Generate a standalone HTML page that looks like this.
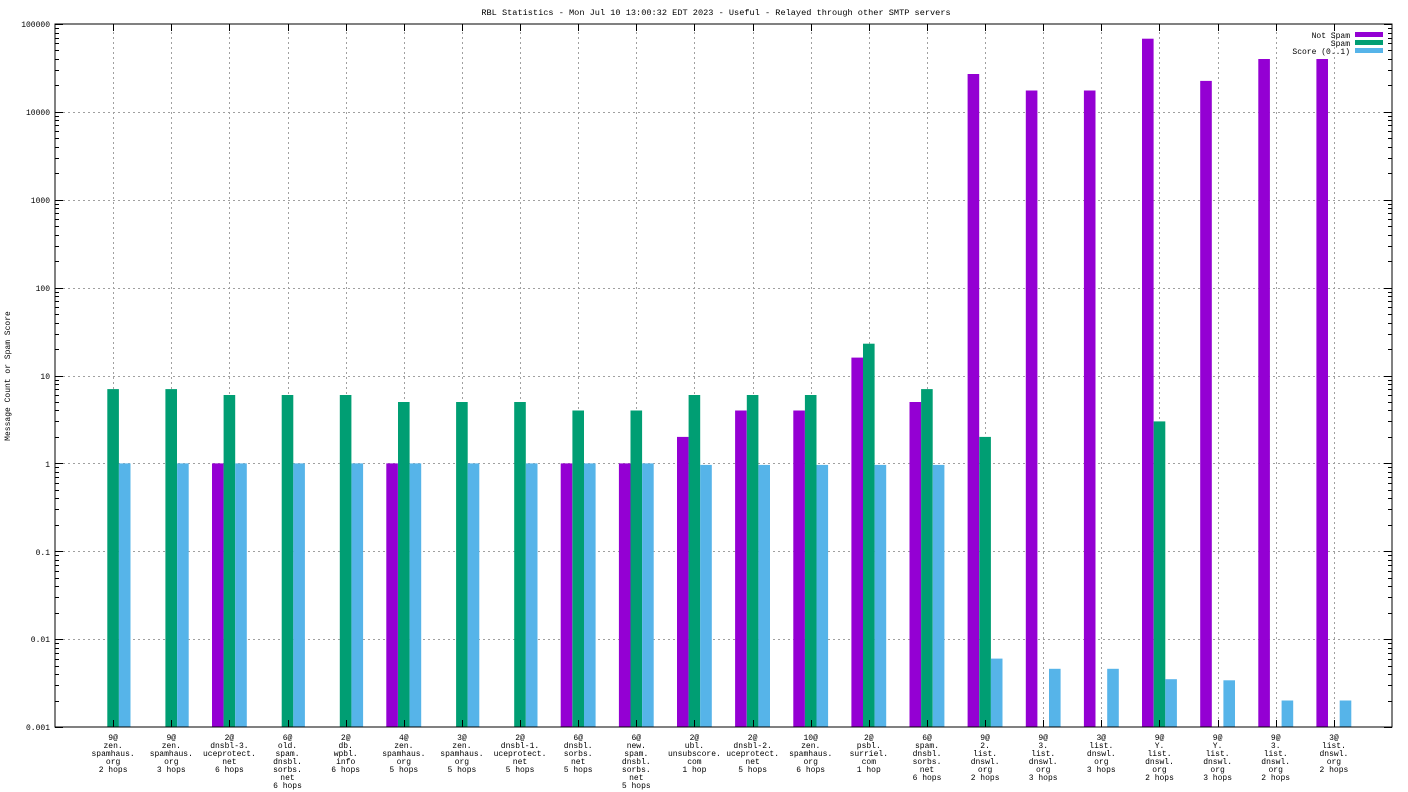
<!DOCTYPE html>
<html><head><meta charset="utf-8"><style>
html,body{margin:0;padding:0;background:#fff}
svg{display:block}
text{font-family:"Liberation Mono","DejaVu Sans Mono",monospace;font-size:8px;fill:#000}
</style></head><body>
<svg id="s" width="1408" height="792" viewBox="0 0 1408 792" xmlns="http://www.w3.org/2000/svg">
<rect width="1408" height="792" fill="#fff"/>
<g id="grid"></g>
<g id="bars"></g>
<g id="ticks"></g>
<rect x="55" y="24" width="1337" height="703" fill="none" stroke="#000" stroke-width="1"/>
<text x="716" y="15" text-anchor="middle" style="font-size:8.6px">RBL Statistics - Mon Jul 10 13:00:32 EDT 2023 - Useful - Relayed through other SMTP servers</text>
<text transform="translate(10,376) rotate(-90)" text-anchor="middle">Message Count or Spam Score</text>
<g text-anchor="end">
<text x="50" y="27">100000</text>
<text x="50" y="115">10000</text>
<text x="50" y="203">1000</text>
<text x="50" y="291">100</text>
<text x="50" y="379">10</text>
<text x="50" y="467">1</text>
<text x="50" y="555">0.1</text>
<text x="50" y="642">0.01</text>
<text x="50" y="730">0.001</text>
<text x="1350" y="38">Not Spam</text>
<text x="1350" y="46">Spam</text>
<text x="1350" y="54">Score (0..1)</text>
</g>
<rect x="1355" y="32" width="28" height="5" fill="#9400d3"/>
<rect x="1355" y="40" width="28" height="5" fill="#009e73"/>
<rect x="1355" y="48" width="28" height="5" fill="#56b4e9"/>
<g id="lab" text-anchor="middle">
<text><tspan>9@</tspan><tspan>zen.</tspan><tspan>spamhaus.</tspan><tspan>org</tspan><tspan>2 hops</tspan></text>
<text><tspan>9@</tspan><tspan>zen.</tspan><tspan>spamhaus.</tspan><tspan>org</tspan><tspan>3 hops</tspan></text>
<text><tspan>2@</tspan><tspan>dnsbl-3.</tspan><tspan>uceprotect.</tspan><tspan>net</tspan><tspan>6 hops</tspan></text>
<text><tspan>6@</tspan><tspan>old.</tspan><tspan>spam.</tspan><tspan>dnsbl.</tspan><tspan>sorbs.</tspan><tspan>net</tspan><tspan>6 hops</tspan></text>
<text><tspan>2@</tspan><tspan>db.</tspan><tspan>wpbl.</tspan><tspan>info</tspan><tspan>6 hops</tspan></text>
<text><tspan>4@</tspan><tspan>zen.</tspan><tspan>spamhaus.</tspan><tspan>org</tspan><tspan>5 hops</tspan></text>
<text><tspan>3@</tspan><tspan>zen.</tspan><tspan>spamhaus.</tspan><tspan>org</tspan><tspan>5 hops</tspan></text>
<text><tspan>2@</tspan><tspan>dnsbl-1.</tspan><tspan>uceprotect.</tspan><tspan>net</tspan><tspan>5 hops</tspan></text>
<text><tspan>6@</tspan><tspan>dnsbl.</tspan><tspan>sorbs.</tspan><tspan>net</tspan><tspan>5 hops</tspan></text>
<text><tspan>6@</tspan><tspan>new.</tspan><tspan>spam.</tspan><tspan>dnsbl.</tspan><tspan>sorbs.</tspan><tspan>net</tspan><tspan>5 hops</tspan></text>
<text><tspan>2@</tspan><tspan>ubl.</tspan><tspan>unsubscore.</tspan><tspan>com</tspan><tspan>1 hop</tspan></text>
<text><tspan>2@</tspan><tspan>dnsbl-2.</tspan><tspan>uceprotect.</tspan><tspan>net</tspan><tspan>5 hops</tspan></text>
<text><tspan>10@</tspan><tspan>zen.</tspan><tspan>spamhaus.</tspan><tspan>org</tspan><tspan>6 hops</tspan></text>
<text><tspan>2@</tspan><tspan>psbl.</tspan><tspan>surriel.</tspan><tspan>com</tspan><tspan>1 hop</tspan></text>
<text><tspan>6@</tspan><tspan>spam.</tspan><tspan>dnsbl.</tspan><tspan>sorbs.</tspan><tspan>net</tspan><tspan>6 hops</tspan></text>
<text><tspan>9@</tspan><tspan>2.</tspan><tspan>list.</tspan><tspan>dnswl.</tspan><tspan>org</tspan><tspan>2 hops</tspan></text>
<text><tspan>9@</tspan><tspan>3.</tspan><tspan>list.</tspan><tspan>dnswl.</tspan><tspan>org</tspan><tspan>3 hops</tspan></text>
<text><tspan>3@</tspan><tspan>list.</tspan><tspan>dnswl.</tspan><tspan>org</tspan><tspan>3 hops</tspan></text>
<text><tspan>9@</tspan><tspan>Y.</tspan><tspan>list.</tspan><tspan>dnswl.</tspan><tspan>org</tspan><tspan>2 hops</tspan></text>
<text><tspan>9@</tspan><tspan>Y.</tspan><tspan>list.</tspan><tspan>dnswl.</tspan><tspan>org</tspan><tspan>3 hops</tspan></text>
<text><tspan>9@</tspan><tspan>3.</tspan><tspan>list.</tspan><tspan>dnswl.</tspan><tspan>org</tspan><tspan>2 hops</tspan></text>
<text><tspan>3@</tspan><tspan>list.</tspan><tspan>dnswl.</tspan><tspan>org</tspan><tspan>2 hops</tspan></text>
</g>
</svg>
<script>
var NS="http://www.w3.org/2000/svg";
function el(p,t,a){var e=document.createElementNS(NS,t);for(var k in a)e.setAttribute(k,a[k]);document.getElementById(p).appendChild(e);return e;}
var X0=55,U=1337/23,T=24,B=727,D=(B-T)/8;
function cx(i){return X0+U*(i+1);}
function Y(v){return B-(Math.log10(v)+3)*D;}
var G={stroke:"#a0a0a0","stroke-width":1,"stroke-dasharray":"2,3"};
for(var d=-2;d<=4;d++){var y=Math.round(B-(d+3)*D)+.5;el("grid","line",Object.assign({x1:63,x2:1384,y1:y,y2:y},G));}
for(var i=0;i<22;i++){var x=Math.round(cx(i))+.5;el("grid","line",Object.assign({x1:x,x2:x,y1:T+8,y2:B},G));
 el("ticks","line",{x1:x,x2:x,y1:T,y2:T+7,stroke:"#000"});el("ticks","line",{x1:x,x2:x,y1:B,y2:B-7,stroke:"#000"});}
for(var d=-3;d<=5;d++){for(var m=1;m<10;m++){if(d==5&&m>1)break;var y=Math.round(Y(m*Math.pow(10,d)))+.5;var L=m==1?8:4;
 el("ticks","line",{x1:55,x2:55+L,y1:y,y2:y,stroke:"#000"});el("ticks","line",{x1:1392,x2:1392-L,y1:y,y2:y,stroke:"#000"});}}
var data=[[0,7,1],[0,7,1],[1,6,1],[0,6,1],[0,6,1],[1,5,1],[0,5,1],[0,5,1],[1,4,1],[1,4,1],[2,6,.96],[4,6,.96],[4,6,.96],[16,23,.96],[5,7,.96],[27000,2,.006],[17500,0,.0046],[17500,0,.0046],[68000,3,.0035],[22500,0,.0034],[40000,0,.002],[40000,0,.002]];
var C=["#9400d3","#009e73","#56b4e9"],w=U*0.2;
data.forEach(function(r,i){var c=cx(i);for(var j=0;j<3;j++){if(!r[j])continue;var x0=c-w*1.5+w*j,y=Y(r[j]);
 el("bars","rect",{x:x0.toFixed(1),y:y.toFixed(1),width:w.toFixed(1),height:(B-y).toFixed(1),fill:C[j]});}});
var ts=document.querySelectorAll("#lab text");
ts.forEach(function(t,i){var c=cx(i).toFixed(1);t.setAttribute("x",c);t.querySelectorAll("tspan").forEach(function(s,k){s.setAttribute("x",c);s.setAttribute("y",740+8*k);});});
</script>
</body></html>
